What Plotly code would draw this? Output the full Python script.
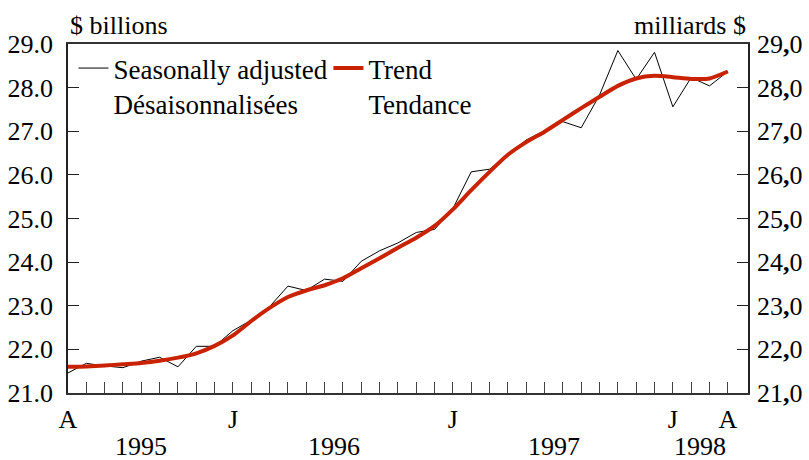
import plotly.graph_objects as go

# Monthly data, April 1995 .. April 1998 (index 0..36)
months = list(range(37))
seasonally_adjusted = [
    21.46, 21.68, 21.62, 21.58, 21.73, 21.82, 21.60, 22.07, 22.07, 22.43,
    22.67, 22.98, 23.45, 23.35, 23.61, 23.56, 24.02, 24.26, 24.44, 24.68,
    24.75, 25.23, 26.07, 26.13, 26.46, 26.80, 27.01, 27.22, 27.08, 27.83,
    28.85, 28.19, 28.81, 27.56, 28.23, 28.04, 28.37,
]
trend = [
    21.60, 21.61, 21.63, 21.66, 21.69, 21.74, 21.81, 21.91, 22.08, 22.32,
    22.65, 22.95, 23.20, 23.35, 23.47, 23.63, 23.86, 24.09, 24.33, 24.56,
    24.83, 25.21, 25.65, 26.07, 26.46, 26.75, 26.99, 27.26, 27.53, 27.79,
    28.04, 28.21, 28.27, 28.24, 28.20, 28.21, 28.37,
]
month_label_pos = [0, 9, 21, 33, 36]
month_labels = ["A", "J", "J", "J", "A"]
years = ["1995", "1996", "1997", "1998"]
year_spans = [(0, 8), (9, 20), (21, 32), (33, 36)]
y_ticks = [21, 22, 23, 24, 25, 26, 27, 28, 29]
y_left_labels = [f"{v:.1f}" for v in y_ticks]
y_right_labels = [f"{v:.1f}".replace(".", "<b>,</b>") for v in y_ticks]

FONT = "Liberation Serif"
FS = 26
RED = "#c92200"

tickvals_x = months
ticktext_x = [month_labels[month_label_pos.index(m)] if m in month_label_pos else "" for m in months]

fig = go.Figure()
fig.add_trace(go.Scatter(
    x=months, y=seasonally_adjusted, mode="lines",
    name="Seasonally adjusted<br>Désaisonnalisées",
    line=dict(color="black", width=1),
))
fig.add_trace(go.Scatter(
    x=months, y=trend, mode="lines",
    name="Trend<br>Tendance",
    line=dict(color=RED, width=4, shape="spline", smoothing=0.6),
))
# invisible trace for right axis
fig.add_trace(go.Scatter(x=[months[0]], y=[y_ticks[0]], yaxis="y2", mode="markers",
                         marker=dict(opacity=0), showlegend=False, hoverinfo="skip"))

fig.update_layout(
    width=809, height=460,
    margin=dict(l=68, r=61, t=44, b=67, autoexpand=False),
    paper_bgcolor="white", plot_bgcolor="white",
    font=dict(family=FONT, size=FS, color="black"),
    showlegend=True,
    legend=dict(
        orientation="h", x=0.008, y=1.0, xanchor="left", yanchor="top",
        bgcolor="rgba(0,0,0,0)", font=dict(family=FONT, size=27, color="black"),
        entrywidth=210, valign="top", tracegroupgap=0,
    ),
    xaxis=dict(
        range=[0, 37.1], tickmode="array", tickvals=tickvals_x, ticktext=ticktext_x,
        ticks="inside", ticklen=11, tickcolor="#444", tickwidth=1,
        showline=True, linecolor="#333", linewidth=1.5, mirror=True,
        showgrid=False, zeroline=False, ticklabelstandoff=2, automargin=False,
    ),
    yaxis=dict(
        range=[21, 29], tickmode="array", tickvals=y_ticks, ticktext=y_left_labels,
        ticks="inside", ticklen=11, tickcolor="#222", tickwidth=1,
        showline=True, linecolor="#222", linewidth=1.5, mirror=True,
        showgrid=False, zeroline=False, ticklabelstandoff=8, automargin=False,
    ),
    yaxis2=dict(
        range=[21, 29], tickmode="array", tickvals=y_ticks, ticktext=y_right_labels,
        overlaying="y", side="right",
        ticks="inside", ticklen=11, tickcolor="#222", tickwidth=1,
        showline=False, showgrid=False, zeroline=False, ticklabelstandoff=8,
        automargin=False,
    ),
    annotations=[
        dict(text="$ billions", x=0, y=1.0, xref="paper", yref="paper",
             xanchor="left", yanchor="bottom", yshift=2, showarrow=False,
             font=dict(family=FONT, size=FS)),
        dict(text="milliards $", x=1, y=1.0, xref="paper", yref="paper",
             xanchor="right", yanchor="bottom", yshift=2, showarrow=False,
             font=dict(family=FONT, size=FS)),
    ] + [
        dict(text=yr, x=(a + b) / 2, y=0, xref="x", yref="paper",
             xanchor="center", yanchor="top", yshift=-37, showarrow=False,
             font=dict(family=FONT, size=FS))
        for yr, (a, b) in zip(years, year_spans)
    ],
)

fig.write_html("out.html", post_script="document.body.style.margin='0';",
               config={"displayModeBar": False})
